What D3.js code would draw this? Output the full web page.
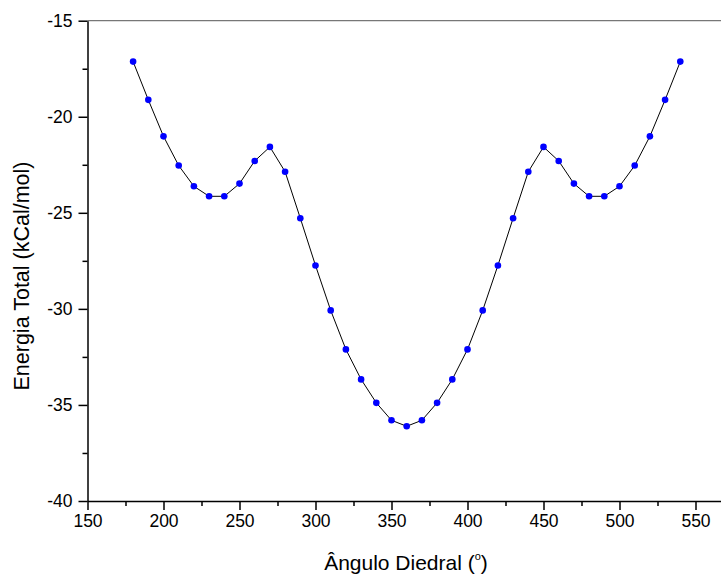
<html>
<head>
  <script src="https://d3js.org/d3.v7.min.js"></script>
  <style>
    body { margin: 0; background: #fff; }
    text { font-family: Arial, "Liberation Sans", sans-serif; }
  </style>
</head>
<body>
  <div id="vis"></div>
  <script type="text/javascript">

    // Data
    var angles = [180, 190, 200, 210, 220, 230, 240, 250, 260, 270, 280, 290, 300, 310, 320, 330, 340, 350, 360,
                  370, 380, 390, 400, 410, 420, 430, 440, 450, 460, 470, 480, 490, 500, 510, 520, 530, 540];
    var energies = [-17.13, -19.12, -21.02, -22.54, -23.62, -24.14, -24.14, -23.48, -22.30, -21.57, -22.86, -25.28, -27.74, -30.08, -32.11, -33.67, -34.89, -35.80, -36.11,
                    -35.80, -34.89, -33.67, -32.11, -30.08, -27.74, -25.28, -22.86, -21.57, -22.30, -23.48, -24.14, -24.14, -23.62, -22.54, -21.02, -19.12, -17.13];
    var xTicks = [150, 200, 250, 300, 350, 400, 450, 500, 550];
    var xMinor = [175, 225, 275, 325, 375, 425, 475, 525];
    var yTicks = [-15, -20, -25, -30, -35, -40];
    var yMinor = [-17.5, -22.5, -27.5, -32.5, -37.5];

    var data = angles.map(function(a, i) { return {a: a, e: energies[i]}; });

    var W = 721, H = 576;
    var plotL = 87.5, plotR = 721, plotT = 20.7, plotB = 501;

    var svg = d3.select('#vis').append('svg')
      .attr('width', W).attr('height', H);

    var x = d3.scaleLinear().domain([150, 150 + (plotR - plotL) / 1.52]).range([plotL, plotR]);
    var y = d3.scaleLinear().domain([-40, -15]).range([plotB, plotT]);

    // plain hyphen minus, like the original
    var fmt = function(d) { return String(d); };

    // top frame
    svg.append('line')
      .attr('x1', plotL).attr('x2', plotR)
      .attr('y1', plotT).attr('y2', plotT)
      .attr('stroke', '#777').attr('stroke-width', 1.3);

    // x axis
    var xg = svg.append('g').attr('transform', 'translate(0,' + plotB + ')');
    xg.call(d3.axisBottom(x).tickValues(xTicks).tickFormat(fmt).tickSize(9).tickSizeOuter(0).tickPadding(5));
    xg.append('g').call(d3.axisBottom(x).tickValues(xMinor).tickSize(5).tickSizeOuter(0).tickFormat(''))
      .select('.domain').remove();
    xg.selectAll('text').style('font-size', '17.5px').attr('fill', '#000');
    xg.selectAll('line').attr('stroke-width', 1.5);
    xg.select('.domain').attr('stroke-width', 1.5);

    // y axis
    var yg = svg.append('g').attr('transform', 'translate(' + plotL + ',0)');
    yg.call(d3.axisLeft(y).tickValues(yTicks).tickFormat(fmt).tickSize(9).tickSizeOuter(0).tickPadding(6));
    yg.append('g').call(d3.axisLeft(y).tickValues(yMinor).tickSize(5).tickSizeOuter(0).tickFormat(''))
      .select('.domain').remove();
    yg.selectAll('text').style('font-size', '17.5px').attr('fill', '#000');
    yg.selectAll('line').attr('stroke-width', 1.5);
    yg.select('.domain').attr('stroke-width', 1.5);

    // line + points
    var line = d3.line().x(function(d) { return x(d.a); }).y(function(d) { return y(d.e); });
    svg.append('path').datum(data)
      .attr('d', line)
      .attr('fill', 'none')
      .attr('stroke', '#000')
      .attr('stroke-width', 1);

    svg.selectAll('circle.pt').data(data).enter().append('circle')
      .attr('class', 'pt')
      .attr('cx', function(d) { return x(d.a); })
      .attr('cy', function(d) { return y(d.e); })
      .attr('r', 3.3)
      .attr('fill', '#0000ff');

    // axis titles
    var xt = svg.append('text')
      .attr('x', 406).attr('y', 570)
      .attr('text-anchor', 'middle')
      .style('font-size', '21px');
    xt.append('tspan').text('Ângulo Diedral (');
    xt.append('tspan').text('o').attr('dy', -10).style('font-size', '11px');
    xt.append('tspan').text(')').attr('dy', 10);

    svg.append('text')
      .attr('transform', 'translate(29,' + 276 + ') rotate(-90)')
      .attr('text-anchor', 'middle')
      .style('font-size', '21.5px')
      .text('Energia Total (kCal/mol)');

  </script>
</body>
</html>
